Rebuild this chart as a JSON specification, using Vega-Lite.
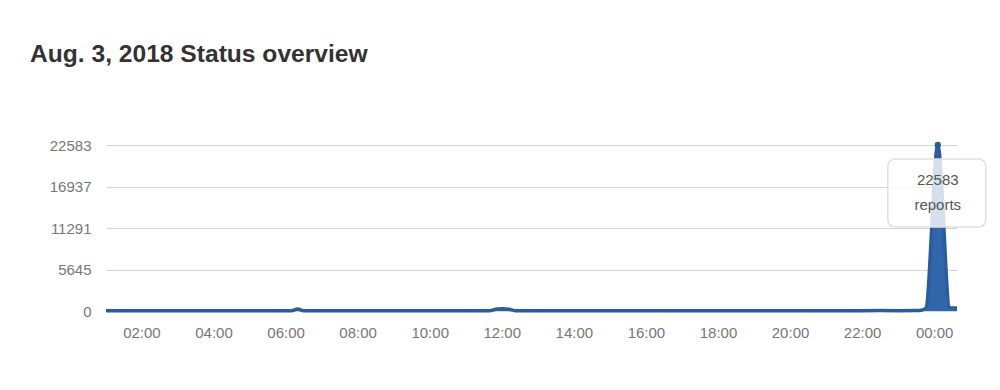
{
  "$schema": "https://vega.github.io/schema/vega-lite/v6.json",
  "width": 851,
  "height": 166,
  "autosize": {"type": "none"},
  "padding": {"left": 106, "top": 145, "right": 43, "bottom": 79},
  "background": "white",
  "title": {
    "text": "Aug. 3, 2018 Status overview",
    "anchor": "start",
    "frame": "group",
    "dx": -76,
    "offset": 70,
    "font": "Liberation Sans",
    "fontSize": 24.6,
    "fontWeight": "bold",
    "color": "#333333"
  },
  "config": {
    "view": {"stroke": null},
    "axis": {
      "labelFont": "Liberation Sans",
      "labelFontSize": 15,
      "labelColor": "#777777",
      "domain": false,
      "ticks": false,
      "title": null
    }
  },
  "datasets": {
    "series": [
      {"time": "2018-08-03T01:01:00", "reports": 40},
      {"time": "2018-08-03T01:30:00", "reports": 30},
      {"time": "2018-08-03T02:00:00", "reports": 35},
      {"time": "2018-08-03T02:30:00", "reports": 40},
      {"time": "2018-08-03T03:00:00", "reports": 30},
      {"time": "2018-08-03T03:30:00", "reports": 35},
      {"time": "2018-08-03T04:00:00", "reports": 40},
      {"time": "2018-08-03T04:30:00", "reports": 45},
      {"time": "2018-08-03T05:00:00", "reports": 40},
      {"time": "2018-08-03T05:30:00", "reports": 35},
      {"time": "2018-08-03T06:00:00", "reports": 40},
      {"time": "2018-08-03T06:10:00", "reports": 50},
      {"time": "2018-08-03T06:20:00", "reports": 280},
      {"time": "2018-08-03T06:30:00", "reports": 50},
      {"time": "2018-08-03T06:40:00", "reports": 40},
      {"time": "2018-08-03T07:00:00", "reports": 35},
      {"time": "2018-08-03T07:30:00", "reports": 30},
      {"time": "2018-08-03T08:00:00", "reports": 40},
      {"time": "2018-08-03T08:30:00", "reports": 35},
      {"time": "2018-08-03T09:00:00", "reports": 40},
      {"time": "2018-08-03T09:30:00", "reports": 45},
      {"time": "2018-08-03T10:00:00", "reports": 40},
      {"time": "2018-08-03T10:30:00", "reports": 35},
      {"time": "2018-08-03T11:00:00", "reports": 40},
      {"time": "2018-08-03T11:30:00", "reports": 45},
      {"time": "2018-08-03T11:40:00", "reports": 50},
      {"time": "2018-08-03T11:52:00", "reports": 260},
      {"time": "2018-08-03T12:02:00", "reports": 290},
      {"time": "2018-08-03T12:12:00", "reports": 240},
      {"time": "2018-08-03T12:22:00", "reports": 50},
      {"time": "2018-08-03T12:30:00", "reports": 40},
      {"time": "2018-08-03T13:00:00", "reports": 35},
      {"time": "2018-08-03T13:30:00", "reports": 40},
      {"time": "2018-08-03T14:00:00", "reports": 30},
      {"time": "2018-08-03T14:30:00", "reports": 35},
      {"time": "2018-08-03T15:00:00", "reports": 40},
      {"time": "2018-08-03T15:30:00", "reports": 35},
      {"time": "2018-08-03T16:00:00", "reports": 30},
      {"time": "2018-08-03T16:30:00", "reports": 40},
      {"time": "2018-08-03T17:00:00", "reports": 45},
      {"time": "2018-08-03T17:30:00", "reports": 40},
      {"time": "2018-08-03T18:00:00", "reports": 35},
      {"time": "2018-08-03T18:30:00", "reports": 40},
      {"time": "2018-08-03T19:00:00", "reports": 45},
      {"time": "2018-08-03T19:30:00", "reports": 40},
      {"time": "2018-08-03T20:00:00", "reports": 35},
      {"time": "2018-08-03T20:30:00", "reports": 30},
      {"time": "2018-08-03T21:00:00", "reports": 40},
      {"time": "2018-08-03T21:30:00", "reports": 45},
      {"time": "2018-08-03T22:00:00", "reports": 50},
      {"time": "2018-08-03T22:30:00", "reports": 55},
      {"time": "2018-08-03T23:00:00", "reports": 50},
      {"time": "2018-08-03T23:30:00", "reports": 55},
      {"time": "2018-08-03T23:36:00", "reports": 60},
      {"time": "2018-08-03T23:46:00", "reports": 350},
      {"time": "2018-08-04T00:06:00", "reports": 22583},
      {"time": "2018-08-04T00:26:00", "reports": 450},
      {"time": "2018-08-04T00:31:00", "reports": 400},
      {"time": "2018-08-04T00:38:00", "reports": 400}
    ],
    "peak": [
      {"time": "2018-08-04T00:06:00", "reports": 22583, "unit": "reports"}
    ]
  },
  "data": {"name": "series"},
  "encoding": {
    "x": {
      "field": "time",
      "type": "temporal",
      "axis": {
        "grid": false,
        "labelPadding": 14,
        "format": "%H:%M"
      }
    },
    "y": {
      "field": "reports",
      "type": "quantitative",
      "scale": {"domain": [0, 22583], "nice": false},
      "axis": {
        "values": [0, 5645, 11291, 16937, 22583],
        "format": "d",
        "grid": true,
        "gridColor": "#d6d6d6",
        "labelPadding": 15
      }
    }
  },
  "layer": [
    {
      "mark": {
        "type": "area",
        "interpolate": "monotone",
        "color": "#3067aa"
      }
    },
    {
      "mark": {
        "type": "line",
        "interpolate": "monotone",
        "color": "#2b5d9e",
        "strokeWidth": 3.5
      }
    },
    {
      "data": {"name": "peak"},
      "mark": {
        "type": "point",
        "shape": "M -0.84 0.28 L 0.8 0.28 Q 0.96 0.28 0.96 0.44 L 0.96 1.48 Q 0.96 1.64 0.8 1.64 L -0.84 1.64 Q -1 1.64 -1 1.48 L -1 0.44 Q -1 0.28 -0.84 0.28 Z",
        "size": 10000,
        "filled": true,
        "fill": "white",
        "fillOpacity": 0.8,
        "stroke": "#e0e0e0",
        "strokeWidth": 1.5,
        "opacity": 1
      }
    },
    {
      "data": {"name": "peak"},
      "mark": {
        "type": "text",
        "dy": 35,
        "font": "Liberation Sans",
        "fontSize": 15,
        "color": "#555555",
        "baseline": "middle"
      },
      "encoding": {"text": {"field": "reports", "type": "quantitative", "format": "d"}}
    },
    {
      "data": {"name": "peak"},
      "mark": {
        "type": "text",
        "dy": 60,
        "font": "Liberation Sans",
        "fontSize": 15,
        "color": "#555555",
        "baseline": "middle"
      },
      "encoding": {"text": {"field": "unit", "type": "nominal"}}
    },
    {
      "data": {"name": "peak"},
      "mark": {
        "type": "point",
        "filled": true,
        "size": 40,
        "color": "#2b5d9e",
        "opacity": 1
      }
    }
  ]
}
